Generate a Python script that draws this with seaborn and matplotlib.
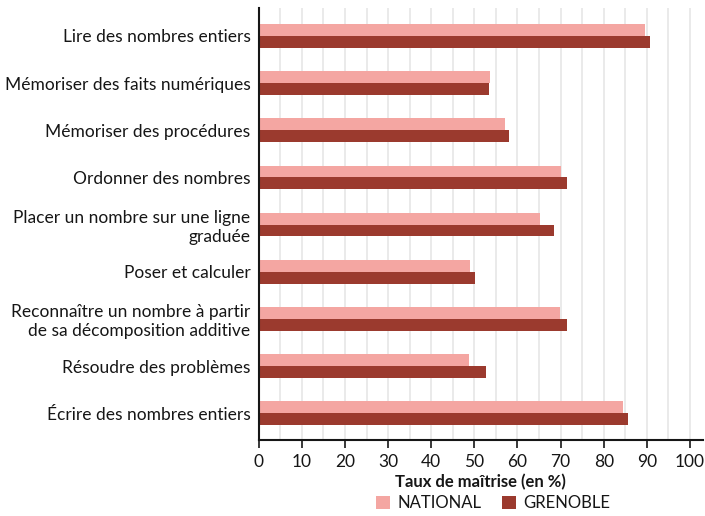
import matplotlib
matplotlib.use("Agg")
import matplotlib.pyplot as plt
import seaborn as sns
import pandas as pd
import numpy as np

categories = [
    "Lire des nombres entiers",
    "Mémoriser des faits numériques",
    "Mémoriser des procédures",
    "Ordonner des nombres",
    "Placer un nombre sur une ligne\ngraduée",
    "Poser et calculer",
    "Reconnaître un nombre à partir\nde sa décomposition additive",
    "Résoudre des problèmes",
    "Écrire des nombres entiers",
]
national = [89.5, 53.7, 57.0, 70.2, 65.3, 49.1, 69.8, 48.8, 84.4]
grenoble = [90.7, 53.5, 58.1, 71.4, 68.4, 50.2, 71.4, 52.8, 85.6]
series = ["NATIONAL", "GRENOBLE"]
colors = ["#F4A6A2", "#9B3A2E"]
xticks = list(range(0, 101, 10))

df = pd.DataFrame({
    "cat": categories * 2,
    "val": national + grenoble,
    "serie": [series[0]] * len(categories) + [series[1]] * len(categories),
})

sns.set_theme(style="white")
plt.rcParams["font.family"] = ["Lato", "DejaVu Sans"]

fig = plt.figure(figsize=(7.05, 5.16), dpi=100)
ax = fig.add_axes([0.367, 0.147, 0.63, 0.837])

sns.barplot(data=df, y="cat", x="val", hue="serie", palette=colors,
            orient="h", width=0.5, ax=ax, saturation=1, legend=False,
            linewidth=0, edgecolor="none")

ax.set_xlim(0, 103)
ax.set_ylim(8.57, -0.585)
ax.set_xticks(xticks)
ax.set_xticklabels([str(t) for t in xticks], fontsize=12.5, color="#161616")
ax.grid(False)
for g in np.arange(5, 101, 5):
    ax.axvline(g, color="#e6e6e6", lw=1.2, zorder=0)
ax.set_axisbelow(True)
ax.tick_params(axis="x", which="major", length=6, width=1.2, color="#161616", bottom=True, pad=4)
ax.tick_params(axis="y", length=0, labelsize=12.5, labelcolor="#161616", pad=6)
ax.set_ylabel("")
ax.set_xlabel("Taux de maîtrise (en %)", fontsize=12, fontweight="bold", color="#161616")
ax.xaxis.set_label_coords(0.5, -0.097)
ax.xaxis.label.set_va("center")
for s in ["top", "right"]:
    ax.spines[s].set_visible(False)
for s in ["left", "bottom"]:
    ax.spines[s].set_color("#161616")
    ax.spines[s].set_linewidth(1.5)
for lbl in ax.get_yticklabels():
    lbl.set_multialignment("right")

from matplotlib.patches import Patch
handles = [Patch(facecolor=c, edgecolor="none", label=l) for c, l in zip(colors, series)]
fig.legend(handles=handles, loc="center", bbox_to_anchor=(0.70, 0.025), ncol=2,
           frameon=False, fontsize=12, handlelength=0.85, handleheight=0.85,
           handletextpad=0.45, columnspacing=1.2, labelcolor="#161616",
           borderpad=0)

fig.savefig("out.png", dpi=100)
